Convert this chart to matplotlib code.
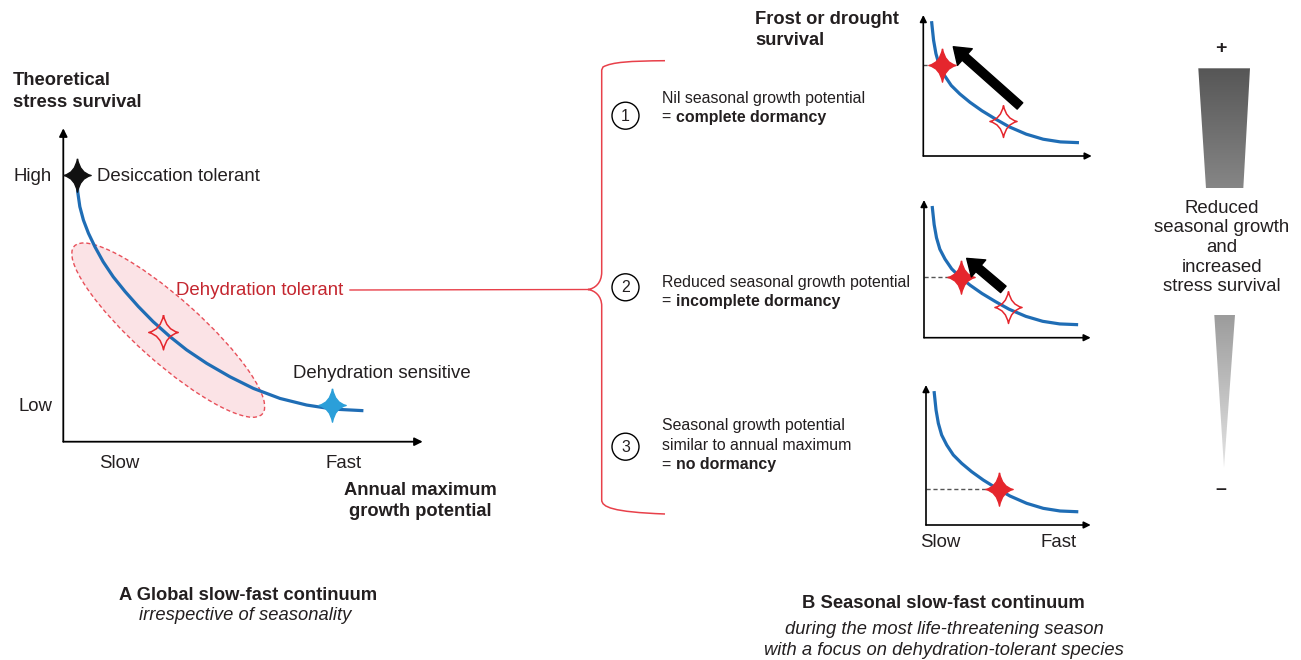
import numpy as np
import matplotlib
matplotlib.use('Agg')
import matplotlib.pyplot as plt
from matplotlib.path import Path
from matplotlib.patches import Ellipse, Polygon, Circle, PathPatch
from matplotlib.transforms import ScaledTranslation
from matplotlib.colors import LinearSegmentedColormap

plt.rcParams['font.family'] = ['Liberation Sans', 'DejaVu Sans']

W, H = 1301, 660
INK = '#231f20'
BLUE = '#1f6db5'
RED = '#e5262d'

# ---- panel A: global slow-fast continuum (axes fractions) ----
a_growth = [0.038, 0.040, 0.046, 0.056, 0.070, 0.088, 0.111, 0.139, 0.172, 0.209,
            0.250, 0.297, 0.343, 0.399, 0.464, 0.529, 0.603, 0.677, 0.751, 0.835]
a_survival = [0.851, 0.798, 0.750, 0.707, 0.665, 0.622, 0.574, 0.526, 0.479, 0.431,
              0.383, 0.335, 0.293, 0.250, 0.207, 0.170, 0.138, 0.117, 0.104, 0.099]
a_star_x = [0.037, 0.278, 0.747]
a_star_y = [0.851, 0.350, 0.117]
a_star_labels = ['Desiccation tolerant', 'Dehydration tolerant', 'Dehydration sensitive']

# ---- panel B: seasonal continuum, three mini plots ----
b_growth = [0.050, 0.061, 0.075, 0.095, 0.126, 0.166, 0.217, 0.277, 0.348,
            0.429, 0.510, 0.611, 0.712, 0.814, 0.915]
b_survival = [0.945, 0.821, 0.726, 0.643, 0.571, 0.500, 0.440, 0.381, 0.321,
              0.262, 0.207, 0.155, 0.119, 0.100, 0.095]
b_season_x = [0.109, 0.222, 0.445]     # filled star: seasonal position
b_season_y = [0.645, 0.44, 0.255]
b_annual_x = [0.475, 0.506]            # hollow star: annual maximum position
b_annual_y = [0.245, 0.22]
b_arrow_tail = [(0.574, 0.355), (0.476, 0.351)]
b_arrow_head = [(0.178, 0.775), (0.256, 0.576)]
b_numbers = ['1', '2', '3']
b_lines = [['Nil seasonal growth potential'],
           ['Reduced seasonal growth potential'],
           ['Seasonal growth potential', 'similar to annual maximum']]
b_dormancy = ['complete dormancy', 'incomplete dormancy', 'no dormancy']

# layout in pixels: left, top, right, bottom
box_a = (63.3, 128.3, 422.7, 441.7)
box_b = [(923.3, 15, 1091.7, 156), (924, 200, 1090.7, 337.7), (926, 385, 1090.7, 525)]


def star_path(w=0.82, c=0.12):
    verts = [(0, 1), (c, c), (w, 0), (c, -c), (0, -1), (-c, -c), (-w, 0), (-c, c), (0, 1)]
    codes = [Path.MOVETO] + [Path.CURVE3] * 8
    return Path(verts, codes)


STAR = star_path(c=0.15)
HOLLOW = star_path(w=0.85, c=0.16)


def add_panel(box):
    l, t, r, b = box
    ax = fig.add_axes([l / W, 1 - b / H, (r - l) / W, (b - t) / H])
    ax.set_xlim(0, 1)
    ax.set_ylim(0, 1)
    ax.axis('off')
    return ax


def axis_arrows(ax, lw=1.2, ms=10):
    kw = dict(arrowstyle='-|>', color='black', lw=lw, shrinkA=0, shrinkB=0, mutation_scale=ms)
    ax.annotate('', xy=(1, 0), xytext=(0, 0), xycoords='axes fraction', arrowprops=kw)
    ax.annotate('', xy=(0, 1), xytext=(0, 0), xycoords='axes fraction', arrowprops=kw)


fig = plt.figure(figsize=(W / 100, H / 100), dpi=100)

# decoration layer in pixel units
deco = fig.add_axes([0, 0, 1, 1])
deco.set_xlim(0, W)
deco.set_ylim(H, 0)
deco.axis('off')

# ---- panel A ----
axA = add_panel(box_a)
axis_arrows(axA, lw=1.3, ms=12)
ell = Ellipse((0, 0), 2.52, 0.64, angle=-41.7, facecolor='#fbe3e6', edgecolor='#e8505a',
              lw=1.0, ls=(0, (3, 2)),
              transform=fig.dpi_scale_trans + ScaledTranslation(0.292, 0.356, axA.transAxes))
axA.add_patch(ell)
axA.plot(a_growth, a_survival, color=BLUE, lw=2.3, solid_capstyle='butt',
         solid_joinstyle='round', zorder=3)
axA.plot(a_star_x[0], a_star_y[0], marker=STAR, ms=24, color='#111111', zorder=4)
axA.plot(a_star_x[1], a_star_y[1], marker=HOLLOW, ms=25, mfc='none', mec=RED, mew=1.1, zorder=4)
axA.plot(a_star_x[2], a_star_y[2], marker=STAR, ms=24, color='#2b9fd9', zorder=4)

fs = 13.4
deco.text(13, 72, 'Theoretical\nstress survival', fontsize=13.2, fontweight='bold',
          color=INK, ha='left', va='top', linespacing=1.35)
deco.text(52, 176.7, 'High', fontsize=fs, color=INK, ha='right', va='center')
deco.text(52, 406.7, 'Low', fontsize=fs, color=INK, ha='right', va='center')
deco.text(96.7, 176.7, a_star_labels[0], fontsize=fs, color=INK, ha='left', va='center')
deco.text(175.7, 290.7, a_star_labels[1], fontsize=fs, color='#c4262f', ha='left', va='center')
deco.text(292.7, 374, a_star_labels[2], fontsize=fs, color=INK, ha='left', va='center')
deco.text(119.7, 463.3, 'Slow', fontsize=fs, color=INK, ha='center', va='center')
deco.text(344, 463.3, 'Fast', fontsize=fs, color=INK, ha='center', va='center')
deco.text(420, 501, 'Annual maximum\ngrowth potential', fontsize=13.2, fontweight='bold',
          color=INK, ha='center', va='center', linespacing=1.35)
deco.text(248, 596, 'A Global slow-fast continuum', fontsize=13.2, fontweight='bold',
          color=INK, ha='center', va='center')
deco.text(245, 616, 'irrespective of seasonality', fontsize=13.2, style='italic',
          color=INK, ha='center', va='center')

# connector and curly bracket
deco.plot([350, 589], [290, 289.5], color='#e8404a', lw=1.0)
bverts = [(665, 60.7), (630, 61), (612, 62), (603, 67), (601.7, 70),
          (601.7, 272),
          (601.7, 283), (595, 288.5), (588, 289.5),
          (595, 290.5), (601.7, 296), (601.7, 306),
          (601.7, 500),
          (602, 507), (612, 512), (665, 514)]
bcodes = [Path.MOVETO, Path.CURVE4, Path.CURVE4, Path.CURVE4, Path.LINETO,
          Path.LINETO,
          Path.CURVE4, Path.CURVE4, Path.CURVE4,
          Path.CURVE4, Path.CURVE4, Path.CURVE4,
          Path.LINETO,
          Path.CURVE4, Path.CURVE4, Path.CURVE4]
deco.add_patch(PathPatch(Path(bverts, bcodes), facecolor='none', edgecolor='#e8404a', lw=1.1))

# ---- panel B ----
row_y = [(99, 117.3), (283, 301.7), (425.7, 465)]
circle_y = [115.7, 287.3, 446.7]
fs_small = 11.4
for i, box in enumerate(box_b):
    ax = add_panel(box)
    axis_arrows(ax, lw=1.2, ms=10)
    ax.plot(b_growth, b_survival, color=BLUE, lw=2.3, solid_joinstyle='round', zorder=3)
    ax.plot([0, b_season_x[i]], [b_season_y[i], b_season_y[i]], color='#555555',
            lw=1.0, ls=(0, (3, 2)), zorder=2)
    ax.plot(b_season_x[i], b_season_y[i], marker=STAR, ms=24, color=RED, zorder=5)
    if i < 2:
        ax.plot(b_annual_x[i], b_annual_y[i], marker=HOLLOW, ms=23, mfc='none', mec=RED,
                mew=1.1, zorder=4)
        ax.annotate('', xy=b_arrow_head[i], xytext=b_arrow_tail[i], xycoords='axes fraction',
                    arrowprops=dict(arrowstyle='simple,head_length=0.7,head_width=1.0,tail_width=0.38',
                                    mutation_scale=16, color='black', shrinkA=0, shrinkB=0),
                    zorder=6)

    deco.add_patch(Circle((625.5, circle_y[i]), 13.5, facecolor='white', edgecolor='black', lw=1.0))
    deco.text(625.5, circle_y[i] + 0.5, b_numbers[i], fontsize=fs_small, color=INK,
              ha='center', va='center')
    y0, y_last = row_y[i]
    n = len(b_lines[i]) + 1
    ys = np.linspace(y0, y_last, n)
    for k, line in enumerate(b_lines[i]):
        deco.text(661.7, ys[k], line, fontsize=fs_small, color=INK, ha='left', va='center')
    deco.text(661.7, ys[-1], '=', fontsize=fs_small, color=INK, ha='left', va='center')
    deco.text(675.7, ys[-1], b_dormancy[i], fontsize=fs_small, fontweight='bold', color=INK,
              ha='left', va='center')

deco.text(755, 30, 'Frost or drought\nsurvival', fontsize=13.2, fontweight='bold',
          color=INK, ha='left', va='center', linespacing=1.35)
deco.text(940, 542.7, 'Slow', fontsize=fs, color=INK, ha='center', va='center')
deco.text(1059, 542.7, 'Fast', fontsize=fs, color=INK, ha='center', va='center')
deco.text(943, 604, 'B Seasonal slow-fast continuum', fontsize=13.2, fontweight='bold',
          color=INK, ha='center', va='center')
deco.text(944, 630, 'during the most life-threatening season', fontsize=13.2, style='italic',
          color=INK, ha='center', va='center')
deco.text(944, 650.7, 'with a focus on dehydration-tolerant species', fontsize=13.2,
          style='italic', color=INK, ha='center', va='center')

# ---- gradient scale on the right ----
grad = np.linspace(0, 1, 256).reshape(-1, 1)
top_poly = Polygon([(1198.3, 68.3), (1250, 68.3), (1243.3, 188.3), (1206, 188.3)],
                   closed=True, facecolor='none', edgecolor='none')
deco.add_patch(top_poly)
im = deco.imshow(grad, cmap=LinearSegmentedColormap.from_list('g1', ['#565656', '#868686']),
                 extent=(1198.3, 1250, 188.3, 68.3), aspect='auto', interpolation='bilinear')
im.set_clip_path(top_poly)
low_poly = Polygon([(1214.3, 315), (1235, 315), (1224, 468)], closed=True,
                   facecolor='none', edgecolor='none')
deco.add_patch(low_poly)
im2 = deco.imshow(grad, cmap=LinearSegmentedColormap.from_list('g2', ['#9c9c9c', '#e4e4e4']),
                  extent=(1214.3, 1235, 468, 315), aspect='auto', interpolation='bilinear')
im2.set_clip_path(low_poly)
deco.set_xlim(0, W)
deco.set_ylim(H, 0)

deco.text(1221, 49, '+', fontsize=14, fontweight='bold', color=INK, ha='center', va='center')
deco.text(1221, 490, '\u2013', fontsize=14, fontweight='bold', color=INK, ha='center', va='center')
for k, line in enumerate(['Reduced', 'seasonal growth', 'and', 'increased', 'stress survival']):
    deco.text(1222, 208.3 + 19.6 * k, line, fontsize=fs, color=INK, ha='center', va='center')

fig.savefig('out.png', dpi=100)
